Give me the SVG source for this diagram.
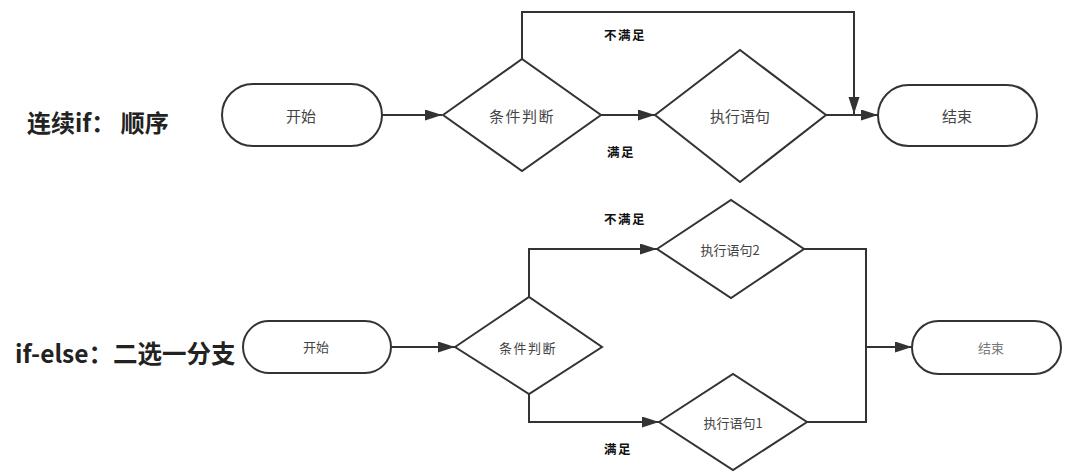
<svg xmlns="http://www.w3.org/2000/svg" width="1078" height="473" viewBox="0 0 1078 473">
<style>
.shape{fill:#fff;stroke:#333;stroke-width:2}
.conn{fill:none;stroke:#333;stroke-width:2}
.node{font-family:"Noto Sans CJK SC","Noto Sans",sans-serif;fill:#444;text-anchor:middle;dominant-baseline:central}
.big{font-size:15px}
.small{font-size:13px}
.lbl{font-family:"Noto Sans CJK SC","Noto Sans",sans-serif;font-size:12.5px;font-weight:bold;fill:#111;text-anchor:middle;dominant-baseline:central;letter-spacing:1.5px}
.title{font-family:"Noto Sans CJK SC","Noto Sans",sans-serif;font-weight:bold;fill:#222;dominant-baseline:central}
</style>
<defs>
<marker id="arr" markerUnits="userSpaceOnUse" markerWidth="18" markerHeight="12" refX="17" refY="5.5" orient="auto">
<path d="M0,0 L17,5.5 L0,11 z" fill="#333"/>
</marker>
</defs>
<g id="titles">
<text class="title" x="27" y="121" font-size="24">连续if：  顺序</text>
<text class="title" x="15" y="352" font-size="24.5">if-else：二选一分支</text>
</g>
<g id="connectors">
<line class="conn" x1="382" y1="115" x2="442" y2="115" marker-end="url(#arr)"/>
<line class="conn" x1="601" y1="115" x2="655" y2="115" marker-end="url(#arr)"/>
<line class="conn" x1="826" y1="115" x2="878" y2="115" marker-end="url(#arr)"/>
<polyline class="conn" points="522,59 522,12 854,12 854,114" marker-end="url(#arr)"/>
<line class="conn" x1="391" y1="347" x2="455" y2="347" marker-end="url(#arr)"/>
<polyline class="conn" points="529,297 529,249 657,249" marker-end="url(#arr)"/>
<polyline class="conn" points="529,394 529,422 659,422" marker-end="url(#arr)"/>
<polyline class="conn" points="804,249 866,249 866,422 807,422"/>
<line class="conn" x1="866" y1="347" x2="912" y2="347" marker-end="url(#arr)"/>
<text class="lbl" x="625" y="34">不满足</text>
<text class="lbl" x="621" y="151">满足</text>
<text class="lbl" x="625" y="218">不满足</text>
<text class="lbl" x="618" y="448">满足</text>
</g>
<g id="start1">
<rect class="shape" x="222" y="84" width="160" height="62" rx="31"/>
<text class="node big" x="301" y="115">开始</text>
</g>
<g id="cond1">
<polygon class="shape" points="443,115 522,59 601,115 522,171"/>
<text class="node big" x="522" y="115" letter-spacing="1.5">条件判断</text>
</g>
<g id="exec1">
<polygon class="shape" points="655,115 740,50 826,115 740,182"/>
<text class="node big" x="740" y="115">执行语句</text>
</g>
<g id="end1">
<rect class="shape" x="878" y="85" width="159" height="61" rx="30.5"/>
<text class="node big" x="957" y="115">结束</text>
</g>
<g id="start2">
<rect class="shape" x="243" y="321" width="148" height="52" rx="26"/>
<text class="node small" x="316" y="346">开始</text>
</g>
<g id="cond2">
<polygon class="shape" points="455,347 529,297 602,347 529,394"/>
<text class="node small" x="528" y="347" letter-spacing="1.5">条件判断</text>
</g>
<g id="exec2">
<polygon class="shape" points="657,249 731,200 804,249 731,298"/>
<text class="node small" x="730" y="249">执行语句2</text>
</g>
<g id="exec3">
<polygon class="shape" points="659,422 733,374 807,422 733,470"/>
<text class="node small" x="733" y="422">执行语句1</text>
</g>
<g id="end2">
<rect class="shape" x="912" y="321" width="149" height="53" rx="26.5"/>
<text class="node small" x="991" y="347" style="fill:#777">结束</text>
</g>
</svg>
